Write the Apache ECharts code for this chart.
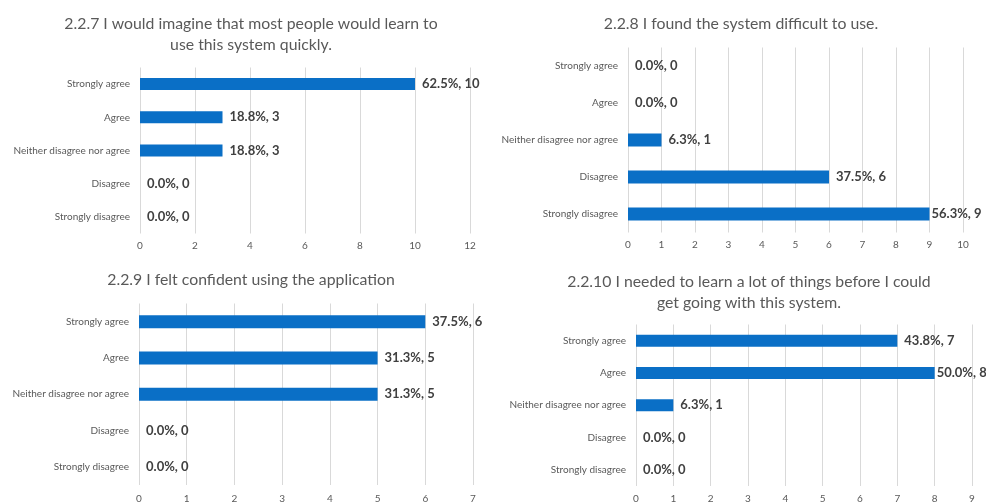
<!DOCTYPE html>
<html>
<head>
<meta charset="utf-8">
<title>System usability survey responses</title>
<script src="https://cdn.jsdelivr.net/npm/echarts@6/dist/echarts.min.js"></script>
<style>
  html, body { margin: 0; padding: 0; background: #ffffff; }
  #chart { width: 986px; height: 504px; }
</style>
</head>
<body>
<div id="chart"></div>
<script>
// Response options, top to bottom
const categories = ['Strongly agree', 'Agree', 'Neither disagree nor agree', 'Disagree', 'Strongly disagree'];

// Question titles
const titles = [
  '2.2.7 I would imagine that most people would learn to\nuse this system quickly.',
  '2.2.8 I found the system difficult to use.',
  '2.2.9 I felt confident using the application',
  '2.2.10 I needed to learn a lot of things before I could\nget going with this system.'
];

// Response counts per question
const counts227 = [10, 3, 3, 0, 0];
const counts228 = [0, 0, 1, 6, 9];
const counts229 = [6, 5, 5, 0, 0];
const counts2210 = [7, 8, 1, 0, 0];

// Share of respondents per option
const pct227 = ['62.5%', '18.8%', '18.8%', '0.0%', '0.0%'];
const pct228 = ['0.0%', '0.0%', '6.3%', '37.5%', '56.3%'];
const pct229 = ['37.5%', '31.3%', '31.3%', '0.0%', '0.0%'];
const pct2210 = ['43.8%', '50.0%', '6.3%', '0.0%', '0.0%'];

// Value axis ranges
const axisMax = [12, 10, 7, 9];
const axisStep = [2, 1, 1, 1];

const FONT = 'Lato, "Open Sans", sans-serif';
const BAR = '#0a6fc6';
const GREY = '#595959';

const panels = [
  { counts: counts227, pct: pct227, grid: { left: 140, right: 516, top: 67.5, bottom: 270.5 }, title: { left: 246, top: 8 }, barWidth: 12, tightIndex: -1, tickMargin: 7 },
  { counts: counts228, pct: pct228, grid: { left: 628, right: 23, top: 47.5, bottom: 271.5 }, title: { left: 736, top: 8 }, barWidth: 13, tightIndex: 4, tickMargin: 7 },
  { counts: counts229, pct: pct229, grid: { left: 139, right: 513, top: 303.5, bottom: 15.5 }, title: { left: 246, top: 264 }, barWidth: 13, tightIndex: -1, tickMargin: 9 },
  { counts: counts2210, pct: pct2210, grid: { left: 636, right: 14, top: 324.5, bottom: 14.5 }, title: { left: 744, top: 266 }, barWidth: 12, tightIndex: 1, tickMargin: 8 }
];

const option = {
  backgroundColor: '#ffffff',
  animation: false,
  title: panels.map((p, i) => ({
    text: titles[i],
    left: p.title.left,
    top: p.title.top,
    textAlign: 'center',
    textStyle: { fontFamily: FONT, fontSize: 15.8, fontWeight: 'normal', color: GREY, lineHeight: 21 }
  })),
  grid: panels.map(p => Object.assign({ containLabel: false }, p.grid)),
  xAxis: panels.map((p, i) => ({
    type: 'value',
    gridIndex: i,
    min: 0,
    max: axisMax[i],
    interval: axisStep[i],
    axisLine: { show: false },
    axisTick: { show: false },
    splitLine: { show: true, lineStyle: { color: '#d9d9d9', width: 1 } },
    axisLabel: { fontFamily: FONT, fontSize: 10, color: GREY, margin: p.tickMargin }
  })),
  yAxis: panels.map((p, i) => ({
    type: 'category',
    gridIndex: i,
    inverse: true,
    data: categories,
    axisLine: { show: false },
    axisTick: { show: false },
    axisLabel: { fontFamily: FONT, fontSize: 10, color: GREY, margin: 10 }
  })),
  series: panels.map((p, i) => ({
    type: 'bar',
    xAxisIndex: i,
    yAxisIndex: i,
    barWidth: p.barWidth,
    itemStyle: { color: BAR },
    data: p.counts.map((v, k) => ({
      value: v,
      label: { distance: k === p.tightIndex ? 2 : 7 }
    })),
    label: {
      show: true,
      position: 'right',
      fontFamily: FONT,
      fontSize: 13,
      fontWeight: 'bold',
      color: '#404040',
      formatter: params => p.pct[params.dataIndex] + ', ' + params.value
    }
  }))
};

const chart = echarts.init(document.getElementById('chart'), null, { renderer: 'canvas' });
chart.setOption(option);
</script>
</body>
</html>
